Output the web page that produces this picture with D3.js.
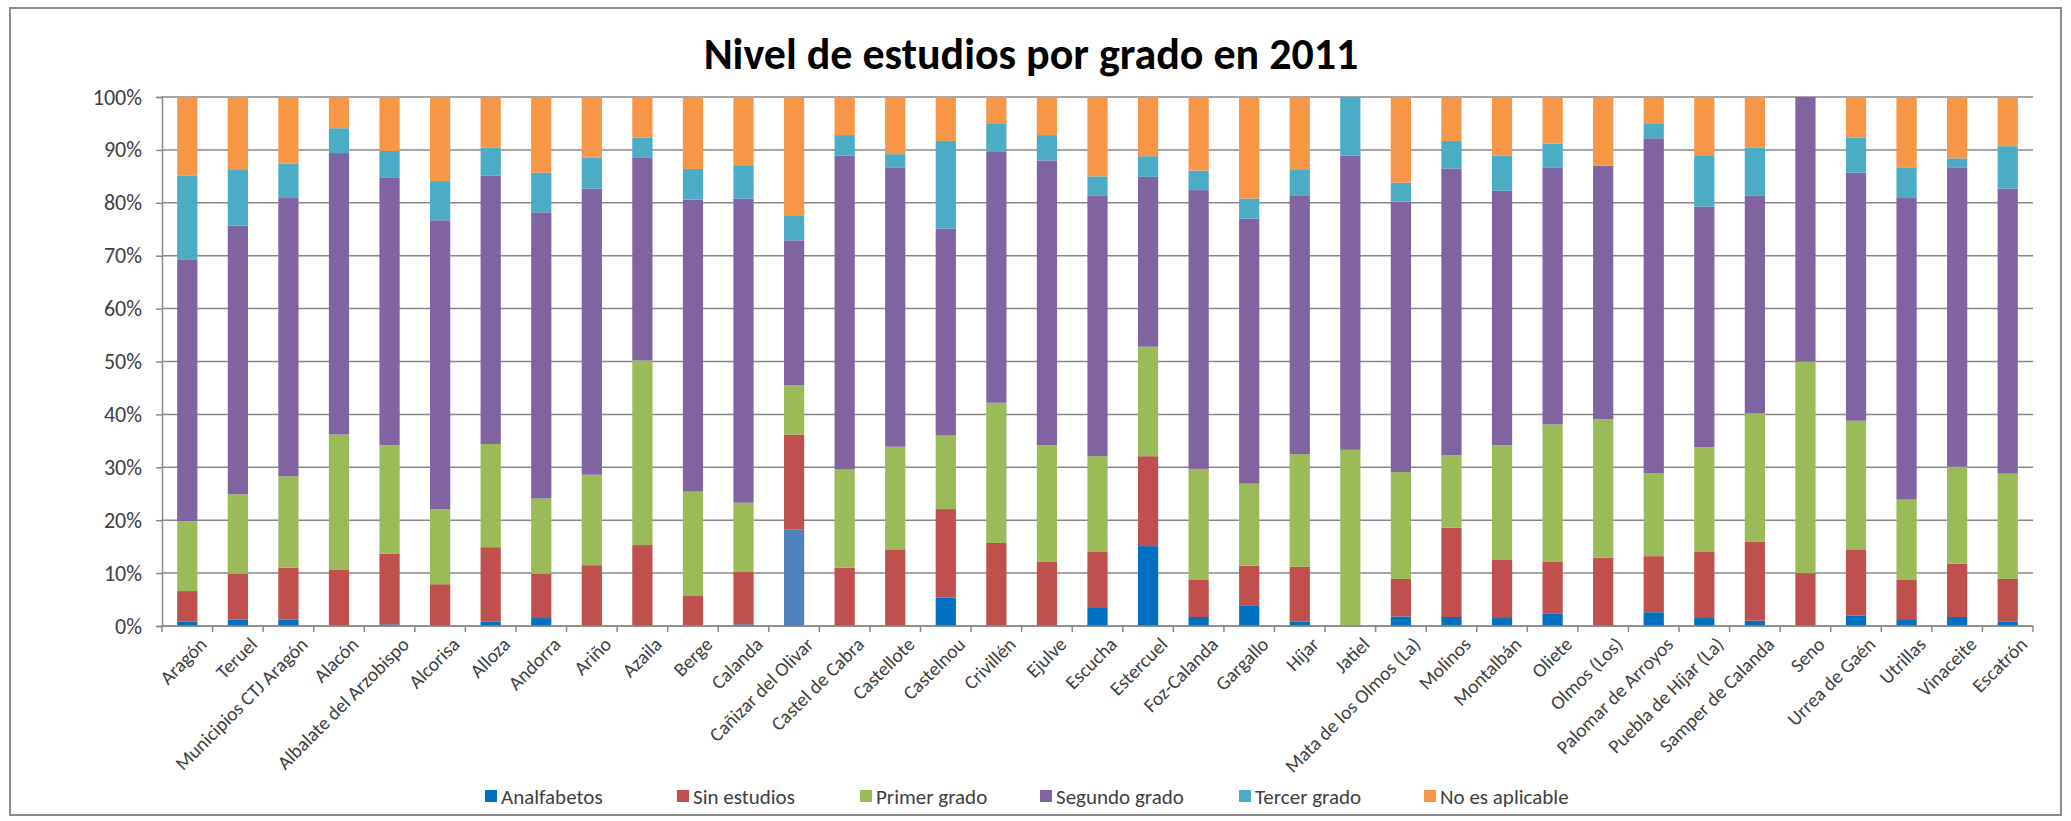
<!DOCTYPE html>
<html>
<head>
<meta charset="utf-8">
<script src="https://cdn.jsdelivr.net/npm/d3@7"></script>
<style>
  html, body { margin: 0; padding: 0; background: #fff; }
  svg { display: block; }
  text { font-family: Carlito, Calibri, Lato, "Open Sans", sans-serif; }
</style>
</head>
<body>
<svg id="chart" width="2071" height="821"></svg>
<script>
// ---------- DATA ----------
const categories = ["Aragón","Teruel","Municipios CTJ Aragón","Alacón","Albalate del Arzobispo","Alcorisa","Alloza","Andorra","Ariño","Azaila","Berge","Calanda","Cañizar del Olivar","Castel de Cabra","Castellote","Castelnou","Crivillén","Ejulve","Escucha","Estercuel","Foz-Calanda","Gargallo","Híjar","Jatiel","Mata de los Olmos (La)","Molinos","Montalbán","Oliete","Olmos (Los)","Palomar de Arroyos","Puebla de Híjar (La)","Samper de Calanda","Seno","Urrea de Gaén","Utrillas","Vinaceite","Escatrón"];

const seriesNames = ["Analfabetos","Sin estudios","Primer grado","Segundo grado","Tercer grado","No es aplicable"];

const analfabetos   = [0.8,1.2,1.2,0,0.3,0,0.8,1.5,0,0,0,0.3,18.2,0,0,5.4,0,0,3.4,15.1,1.7,3.8,0.8,0,1.8,1.7,1.5,2.3,0,2.6,1.5,1.0,0,2.0,1.3,1.7,0.8];
const sinEstudios   = [5.8,8.7,9.8,10.6,13.4,7.9,14.1,8.4,11.5,15.3,5.8,9.9,18.0,11.0,14.5,16.7,15.7,12.2,10.6,17.0,7.0,7.6,10.4,0,7.1,16.9,11.1,9.9,12.9,10.6,12.5,14.9,10.0,12.5,7.4,10.1,8.1];
const primerGrado   = [13.2,15.0,17.3,25.6,20.5,14.2,19.5,14.2,17.1,34.9,19.6,13.1,9.3,18.6,19.4,13.9,26.5,22.0,18.1,20.7,21.0,15.5,21.3,33.3,20.2,13.7,21.6,25.9,26.2,15.7,19.8,24.3,40.0,24.3,15.2,18.3,19.9];
const segundoGrado  = [49.4,50.8,52.6,53.2,50.5,54.6,50.7,54.1,54.1,38.4,55.2,57.5,27.4,59.3,52.7,39.1,47.4,53.8,49.3,32.1,52.7,50.1,48.8,55.6,51.1,54.2,48.1,48.5,47.9,63.3,45.5,41.2,50.0,46.9,57.0,56.5,53.9];
const tercerGrado   = [15.9,10.5,6.5,4.7,5.1,7.4,5.3,7.5,5.9,3.7,5.8,6.3,4.6,3.9,2.6,16.6,5.3,4.8,3.6,3.9,3.7,3.8,4.9,11.1,3.6,5.2,6.6,4.6,0,2.7,9.7,9.0,0,6.6,5.7,1.8,8.0];
const noAplicable   = [14.9,13.8,12.6,5.9,10.2,15.9,9.6,14.3,11.4,7.7,13.6,12.9,22.5,7.2,10.8,8.3,5.1,7.2,15.0,11.2,13.9,19.2,13.8,0,16.2,8.3,11.1,8.8,13.0,5.1,11.0,9.6,0,7.7,13.4,11.6,9.3];

const yTicks = [0,0.1,0.2,0.3,0.4,0.5,0.6,0.7,0.8,0.9,1.0];
const titleText = "Nivel de estudios por grado en 2011";

// ---------- STYLE ----------
const colors = ["#0070C0","#C0504D","#9BBB59","#8064A2","#4BACC6","#F79646"];
const pointColorOverride = { "Cañizar del Olivar|Analfabetos": "#4F81BD" };

const W = 2071, H = 821;
const plot = { left: 162, right: 2033, top: 97, bottom: 626 };
const labelAngle = -45;

// ---------- BUILD ----------
const seriesArrays = [analfabetos, sinEstudios, primerGrado, segundoGrado, tercerGrado, noAplicable];
const rows = categories.map((c, i) => {
  const r = { cat: c };
  seriesNames.forEach((s, k) => r[s] = seriesArrays[k][i]);
  return r;
});

const stack = d3.stack().keys(seriesNames).offset(d3.stackOffsetExpand);
const stacked = stack(rows);

const svg = d3.select("#chart");

// outer border
svg.append("rect")
  .attr("x", 10).attr("y", 8).attr("width", W - 20).attr("height", H - 14)
  .attr("fill", "#fff").attr("stroke", "#8c8c8c").attr("stroke-width", 2);

const x = d3.scaleBand().domain(categories)
  .range([plot.left, plot.right]).paddingInner(0.6).paddingOuter(0.3);
const y = d3.scaleLinear().domain([0, 1]).range([plot.bottom, plot.top]);
const step = x.step();

// title
svg.append("text")
  .attr("x", 1031).attr("y", 69)
  .attr("text-anchor", "middle")
  .attr("font-size", 44).attr("font-weight", "bold").attr("fill", "#000")
  .text(titleText);

// gridlines
svg.append("g").selectAll("line").data(yTicks).join("line")
  .attr("x1", plot.left).attr("x2", plot.right)
  .attr("y1", d => y(d)).attr("y2", d => y(d))
  .attr("stroke", "#898989").attr("stroke-width", 1.5);

// y axis
const yAxis = svg.append("g")
  .attr("transform", `translate(${plot.left},0)`)
  .call(d3.axisLeft(y).tickValues(yTicks).tickFormat(d3.format(".0%")).tickSize(6).tickPadding(14));
yAxis.select(".domain").attr("stroke", "#898989").attr("stroke-width", 1.5);
yAxis.selectAll(".tick line").attr("stroke", "#898989").attr("stroke-width", 1.5);
yAxis.selectAll(".tick text").attr("font-size", 22).attr("fill", "#404040")
  .attr("font-family", "Carlito, Calibri, Lato, 'Open Sans', sans-serif");

// bars
svg.append("g").selectAll("g").data(stacked).join("g")
  .each(function(series, k) {
    d3.select(this).selectAll("rect").data(series).join("rect")
      .attr("x", d => x(d.data.cat))
      .attr("width", x.bandwidth())
      .attr("y", d => y(d[1]))
      .attr("height", d => Math.max(0, y(d[0]) - y(d[1])))
      .attr("fill", d => pointColorOverride[d.data.cat + "|" + series.key] || colors[k]);
  });

// x axis line + ticks between categories
const xAxisG = svg.append("g");
xAxisG.append("line")
  .attr("x1", plot.left).attr("x2", plot.right)
  .attr("y1", plot.bottom).attr("y2", plot.bottom)
  .attr("stroke", "#898989").attr("stroke-width", 1.5);
const tickPos = categories.map(c => x(c) + x.bandwidth() / 2 - step / 2).concat([plot.right]);
xAxisG.selectAll("line.t").data(tickPos).join("line").attr("class", "t")
  .attr("x1", d => d).attr("x2", d => d)
  .attr("y1", plot.bottom).attr("y2", plot.bottom + 6)
  .attr("stroke", "#898989").attr("stroke-width", 1.5);

// x labels
xAxisG.selectAll("text").data(categories).join("text")
  .attr("transform", d => `translate(${x(d) + x.bandwidth() / 2 + 11},${plot.bottom + 10}) rotate(${labelAngle})`)
  .attr("text-anchor", "end")
  .attr("dy", "0.7em")
  .attr("font-size", 19.5).attr("fill", "#404040")
  .text(d => d);

// legend
const legendX = [485, 677, 860, 1040, 1239, 1424];
const legendY = 797;
const lg = svg.append("g").selectAll("g").data(seriesNames).join("g")
  .attr("transform", (d, i) => `translate(${legendX[i]},${legendY})`);
lg.append("rect").attr("x", 0).attr("y", -7).attr("width", 12).attr("height", 12)
  .attr("fill", (d, i) => colors[i]);
lg.append("text").attr("x", 16).attr("y", 0).attr("dy", "0.35em")
  .attr("font-size", 21).attr("fill", "#404040").text(d => d);
</script>
</body>
</html>
